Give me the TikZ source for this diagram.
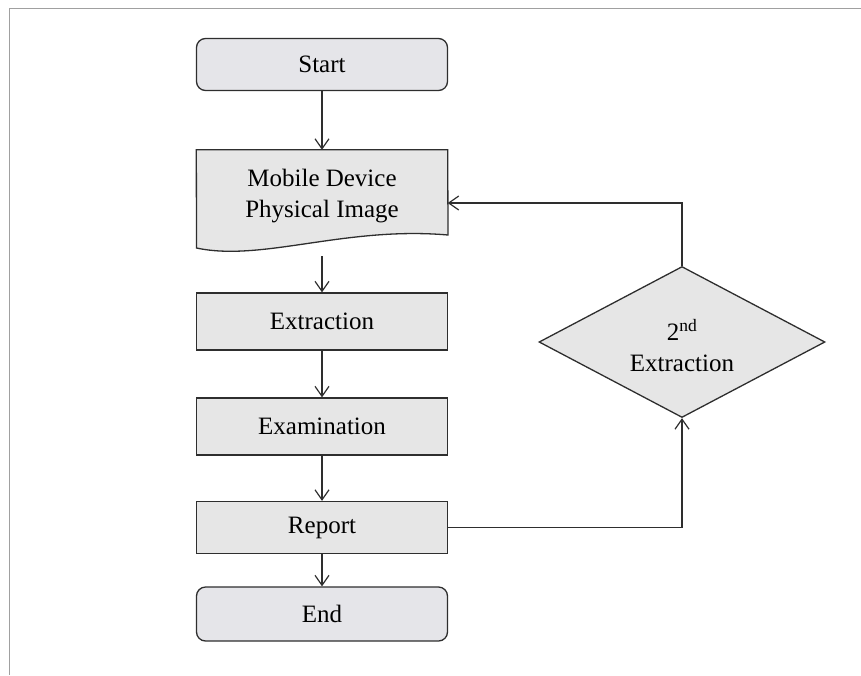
\documentclass[tikz,border=0pt]{standalone}
\usepackage{fontspec}
\setmainfont{Liberation Serif}
\usetikzlibrary{arrows.meta,shapes.geometric}
\definecolor{boxfill}{HTML}{E6E6E6}
\definecolor{termfill}{HTML}{E5E5E9}
\definecolor{edge}{HTML}{2E2E2E}
\definecolor{frame}{HTML}{A0A0A0}
\begin{document}
\begin{tikzpicture}[x=1pt,y=-1pt,
  label font/.style={font=\fontsize{25}{31}\selectfont},
  stepbox/.style={draw=edge,line width=1.3pt,fill=boxfill,rectangle,
    minimum width=251pt,minimum height=57pt,inner sep=0pt,label font},
  term/.style={stepbox,fill=termfill,rounded corners=9pt,minimum height=52pt},
  arr/.style={draw=edge,line width=1.2pt,-{Straight Barb[length=10pt,width=14pt,line width=1.2pt]}}]
  \useasboundingbox (0,0) rectangle (861,675);
  % page frame
  \draw[frame,line width=1pt] (861,8) -- (9,8) -- (9,675);

  % flow nodes
  \node[term] (start) at (322,64.5) {Start};
  \node[rectangle,minimum width=251pt,minimum height=106pt,inner sep=0pt] (mobile) at (322,203) {};
  \filldraw[draw=edge,fill=boxfill,line width=1.3pt]
    (mobile.north west) -- (mobile.north east) -- (448,235)
    .. controls (345,226) and (262,262) .. (196.5,248) -- cycle;
  \node[label font,align=center] (mobiletext) at (322,196) {Mobile Device\\Physical Image};
  \node[stepbox] (extract) at (322,321.5) {Extraction};
  \node[stepbox] (exam) at (322,426.5) {Examination};
  \node[stepbox,minimum height=52pt] (report) at (322,527.5) {Report};
  \node[term,minimum height=54pt] (end) at (322,614) {End};

  \node[diamond,draw=edge,fill=boxfill,line width=1.3pt,inner sep=0pt,
    minimum width=286pt,minimum height=151pt] (second) at (682,342) {};
  \node[label font,align=center] (secondtext) at (682,346)
    {2\textsuperscript{nd}\\Extraction};

  % connectors
  \draw[arr] (start) -- (mobile);
  \draw[arr] (mobile) -- (extract);
  \draw[arr] (extract) -- (exam);
  \draw[arr] (exam) -- (report);
  \draw[arr] (report) -- (end);
  \draw[arr] (report.east) -| (second.south);
  \draw[arr] (second.north) |- (mobile.east);
\end{tikzpicture}
\end{document}
